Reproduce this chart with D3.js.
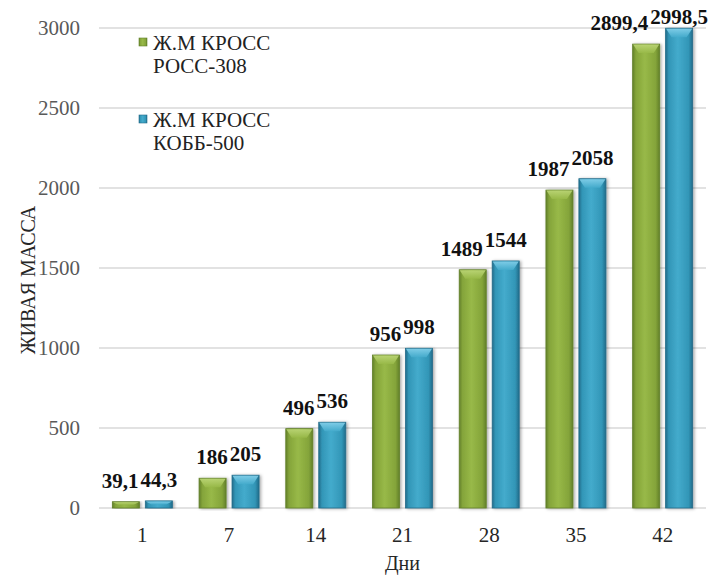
<!DOCTYPE html>
<html><head><meta charset="utf-8">
<script src="https://cdn.jsdelivr.net/npm/d3@7"></script>
<style>body{margin:0;background:#fff}svg{display:block}</style>
</head><body>
<svg id="c" width="715" height="577"></svg>
<script>
const days = ["1","7","14","21","28","35","42"];
const seriesNames = ["Ж.М КРОСС|РОСС-308", "Ж.М КРОСС|КОББ-500"];
const ross = [39.1, 186, 496, 956, 1489, 1987, 2899.4];
const cobb = [44.3, 205, 536, 998, 1544, 2058, 2998.5];
const yTicks = [0, 500, 1000, 1500, 2000, 2500, 3000];
const labelsRoss = ["39,1","186","496","956","1489","1987","2899,4"];
const labelsCobb = ["44,3","205","536","998","1544","2058","2998,5"];

const svg = d3.select("#c");
const font = "'Liberation Serif','Times New Roman',serif";
const x0 = d3.scaleBand().domain(days).range([99, 706]).padding(0);
const x1 = d3.scaleBand().domain([0,1]).range([0, 60]).paddingInner(0.18);
const y = d3.scaleLinear().domain([0, 3000]).range([508, 28]);

const defs = svg.append("defs");
const pal = [
  {dark:"#62802a", mid:"#84a43a", light:"#98b948", top:"#bcd677"},
  {dark:"#226c8a", mid:"#3296b7", light:"#44abcc", top:"#84d0ea"}
];
pal.forEach((p,i)=>{
  const g = defs.append("linearGradient").attr("id","g"+i).attr("x1","0").attr("x2","1").attr("y1","0").attr("y2","0");
  g.append("stop").attr("offset","0").attr("stop-color",p.dark);
  g.append("stop").attr("offset","0.12").attr("stop-color",p.mid);
  g.append("stop").attr("offset","0.45").attr("stop-color",p.light);
  g.append("stop").attr("offset","0.85").attr("stop-color",p.mid);
  g.append("stop").attr("offset","1").attr("stop-color",p.dark);
  const t = defs.append("linearGradient").attr("id","t"+i).attr("x1","0").attr("x2","0").attr("y1","0").attr("y2","1");
  t.append("stop").attr("offset","0").attr("stop-color",p.top);
  t.append("stop").attr("offset","1").attr("stop-color",p.light);
});
const f = defs.append("filter").attr("id","sh").attr("x","-30%").attr("y","-10%").attr("width","160%").attr("height","120%");
f.append("feDropShadow").attr("dx",1.5).attr("dy",0.5).attr("stdDeviation",1.5).attr("flood-color","#000").attr("flood-opacity",0.35);

// gridlines
svg.append("g").selectAll("line").data(yTicks).join("line")
  .attr("x1",99).attr("x2",706).attr("y1",d=>y(d)).attr("y2",d=>y(d))
  .attr("stroke","#d9d9d9").attr("stroke-width",1.5);

// y tick labels
svg.append("g").selectAll("text").data(yTicks).join("text")
  .attr("x",80).attr("y",d=>y(d)).attr("dy","0.35em").attr("text-anchor","end")
  .attr("font-family",font).attr("font-size",21).attr("fill","#595959").text(d=>d);

// x tick labels
svg.append("g").selectAll("text").data(days).join("text")
  .attr("x",d=>x0(d)+x0.bandwidth()/2).attr("y",542).attr("text-anchor","middle")
  .attr("font-family",font).attr("font-size",21).attr("fill","#262626").text(d=>d);

// axis titles
svg.append("text").attr("x",(99+706)/2).attr("y",570).attr("text-anchor","middle")
  .attr("font-family",font).attr("font-size",20).attr("fill","#262626").text("Дни");
svg.append("text").attr("transform","translate(35,280) rotate(-90)").attr("text-anchor","middle")
  .attr("font-family",font).attr("font-size",20).attr("fill","#262626").text("ЖИВАЯ МАССА");

const series = [ross, cobb];
const labs = [labelsRoss, labelsCobb];
const barX = (i,s)=> x0(days[i]) + x0.bandwidth()/2 - 30 + x1(s);

const bars = svg.append("g");
series.forEach((vals,s)=>{
  const g = bars.append("g");
  vals.forEach((v,i)=>{
    const bx = barX(i,s), bw = x1.bandwidth(), top = y(v), h = y(0)-y(v);
    g.append("rect").attr("x",bx).attr("y",top).attr("width",bw).attr("height",h)
      .attr("fill",`url(#g${s})`).attr("stroke",pal[s].dark).attr("stroke-width",0.8).attr("filter","url(#sh)");
    const bh = Math.min(9, h/2), ins = Math.min(6, bw/4);
    g.append("path")
      .attr("d",`M${bx+0.5},${top+0.5}L${bx+bw-0.5},${top+0.5}L${bx+bw-ins},${top+bh}L${bx+ins},${top+bh}Z`)
      .attr("fill",`url(#t${s})`).attr("opacity",0.9);
  });
});

// value labels with overlap resolution
const lg = svg.append("g").attr("font-family",font).attr("font-size",21).attr("font-weight","bold").attr("fill","#111");
days.forEach((d,i)=>{
  const cx = [0,1].map(s=>barX(i,s)+x1.bandwidth()/2);
  const ys = [0,1].map(s=>Math.max(y(series[s][i])-14, 24));
  const t1 = lg.append("text").attr("x",cx[1]).attr("y",ys[1]).attr("text-anchor","middle").text(labs[1][i]);
  const t0 = lg.append("text").attr("x",cx[0]).attr("y",ys[0]).attr("text-anchor","middle").text(labs[0][i]);
  const w0 = t0.node().getComputedTextLength(), w1 = t1.node().getComputedTextLength();
  const left1 = cx[1]-w1/2;
  if (cx[0]+w0/2 > left1 - 2) {
    t0.attr("text-anchor","end").attr("x",left1 - 2);
  }
});

// legend
const leg = svg.append("g").attr("font-family",font).attr("font-size",21).attr("fill","#222");
seriesNames.forEach((n,s)=>{
  const yy = 50 + s*77;
  leg.append("rect").attr("x",139).attr("y",yy-12).attr("width",8).attr("height",8)
    .attr("fill",`url(#g${s})`).attr("stroke",pal[s].dark).attr("stroke-width",0.6);
  n.split("|").forEach((line,k)=>{
    leg.append("text").attr("x",153).attr("y",yy+k*23).text(line);
  });
});
</script>
</body></html>
